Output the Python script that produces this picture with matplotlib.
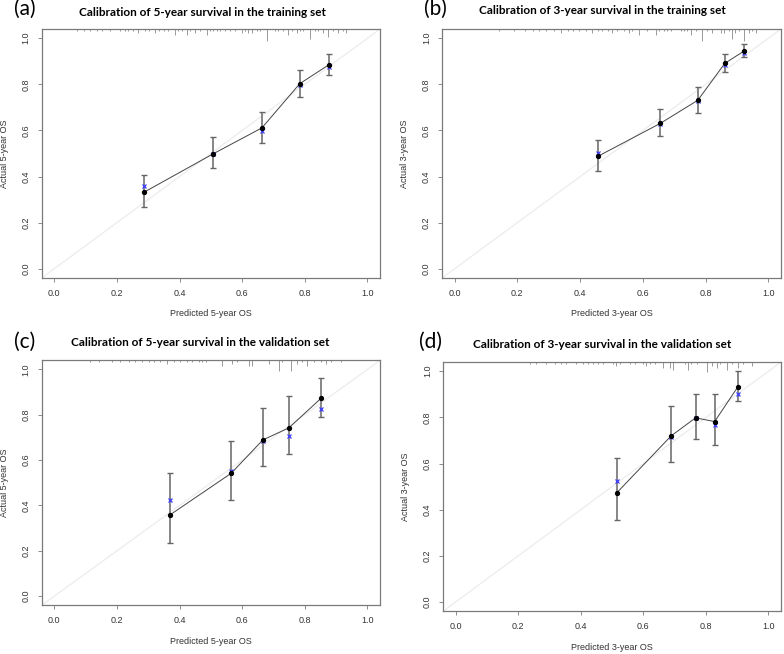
import numpy as np
import matplotlib.pyplot as plt
import matplotlib

matplotlib.rcParams.update({
    "font.family": ["Liberation Sans", "DejaVu Sans"],
})

# ---- data ----
# (a) 5-year, training set
a_pred = [0.288, 0.508, 0.663, 0.784, 0.878]
a_obs = [0.333, 0.499, 0.611, 0.803, 0.886]
a_ideal = [0.358, 0.500, 0.598, 0.796, 0.877]
a_lo = [0.269, 0.438, 0.547, 0.747, 0.839]
a_hi = [0.408, 0.573, 0.680, 0.861, 0.933]
a_rug_x = [0.072, 0.094, 0.115, 0.136, 0.152, 0.178, 0.210, 0.226, 0.237, 0.253,
           0.269, 0.290, 0.301, 0.322, 0.333, 0.349, 0.364, 0.386, 0.396, 0.407,
           0.423, 0.434, 0.449, 0.465, 0.487, 0.497, 0.508, 0.519, 0.529, 0.545,
           0.561, 0.577, 0.598, 0.609, 0.619, 0.630, 0.646, 0.657, 0.678, 0.704,
           0.715, 0.731, 0.747, 0.758, 0.774, 0.784, 0.795, 0.816, 0.832, 0.843,
           0.858, 0.874, 0.890, 0.906, 0.922, 0.933]
a_rug_n = [1, 1, 1, 1, 1, 1, 1, 1, 1, 1,
           2, 1, 1, 2, 1, 1, 1, 3, 1, 1,
           3, 1, 2, 1, 3, 1, 1, 1, 1, 1,
           1, 1, 2, 1, 2, 2, 1, 1, 6, 1,
           1, 1, 3, 1, 2, 1, 1, 5, 1, 1,
           2, 4, 1, 2, 1, 2]

# (b) 3-year, training set
b_pred = [0.457, 0.656, 0.775, 0.861, 0.923]
b_obs = [0.488, 0.631, 0.731, 0.891, 0.945]
b_ideal = [0.502, 0.627, 0.728, 0.884, 0.938]
b_lo = [0.424, 0.576, 0.677, 0.852, 0.918]
b_hi = [0.559, 0.695, 0.790, 0.933, 0.977]
b_rug_x = [0.140, 0.190, 0.226, 0.249, 0.270, 0.290, 0.317, 0.339, 0.360, 0.376,
           0.397, 0.418, 0.439, 0.456, 0.471, 0.488, 0.503, 0.519, 0.540, 0.556,
           0.566, 0.588, 0.614, 0.641, 0.651, 0.667, 0.678, 0.689, 0.720, 0.731,
           0.741, 0.752, 0.768, 0.789, 0.805, 0.821, 0.848, 0.858, 0.874, 0.884,
           0.895, 0.905, 0.921, 0.937, 0.948, 0.959]
b_rug_n = [1, 1, 1, 1, 1, 1, 1, 2, 1, 1,
           1, 1, 2, 1, 1, 1, 2, 1, 1, 2,
           1, 3, 1, 3, 1, 1, 1, 1, 1, 1,
           1, 3, 1, 6, 1, 2, 2, 2, 1, 5,
           2, 1, 6, 2, 1, 2]

# (c) 5-year, validation set
c_pred = [0.368, 0.565, 0.666, 0.749, 0.853]
c_obs = [0.357, 0.542, 0.689, 0.742, 0.874]
c_ideal = [0.425, 0.550, 0.683, 0.707, 0.824]
c_lo = [0.234, 0.422, 0.572, 0.627, 0.790]
c_hi = [0.545, 0.683, 0.830, 0.881, 0.964]
c_rug_x = [0.115, 0.142, 0.185, 0.211, 0.238, 0.259, 0.280, 0.302, 0.318, 0.339,
           0.360, 0.381, 0.403, 0.424, 0.440, 0.461, 0.472, 0.483, 0.536, 0.568,
           0.584, 0.621, 0.632, 0.685, 0.717, 0.728, 0.755, 0.776, 0.792, 0.808,
           0.829, 0.851, 0.867, 0.883, 0.915]
c_rug_n = [1, 1, 1, 1, 1, 1, 1, 1, 1, 1,
           2, 1, 1, 1, 1, 1, 1, 1, 3, 2,
           1, 3, 3, 2, 5, 1, 5, 2, 1, 3,
           1, 1, 2, 1, 1]

# (d) 3-year, validation set
d_pred = [0.515, 0.689, 0.767, 0.828, 0.902]
d_obs = [0.473, 0.720, 0.798, 0.782, 0.932]
d_ideal = [0.525, 0.713, 0.797, 0.768, 0.901]
d_lo = [0.357, 0.605, 0.705, 0.682, 0.870]
d_hi = [0.626, 0.849, 0.901, 0.901, 1.000]
d_rug_x = [0.237, 0.258, 0.290, 0.317, 0.338, 0.354, 0.386, 0.407, 0.423, 0.439,
           0.455, 0.471, 0.503, 0.514, 0.524, 0.556, 0.572, 0.599, 0.610, 0.620,
           0.636, 0.663, 0.684, 0.695, 0.732, 0.743, 0.754, 0.770, 0.802, 0.818,
           0.834, 0.844, 0.866, 0.882, 0.903, 0.919, 0.946]
d_rug_n = [1, 1, 1, 1, 1, 1, 1, 1, 1, 1,
           1, 1, 1, 2, 1, 1, 1, 1, 2, 1,
           1, 3, 3, 4, 1, 4, 1, 1, 5, 2,
           3, 1, 4, 1, 3, 1, 2]

panels = [
    ("(a)", "Calibration of 5-year survival in the training set", "Predicted 5-year OS", "Actual 5-year OS",
     a_pred, a_obs, a_ideal, a_lo, a_hi, a_rug_x, a_rug_n),
    ("(b)", "Calibration of 3-year survival in the training set", "Predicted 3-year OS", "Actual 3-year OS",
     b_pred, b_obs, b_ideal, b_lo, b_hi, b_rug_x, b_rug_n),
    ("(c)", "Calibration of 5-year survival in the validation set", "Predicted 5-year OS", "Actual 5-year OS",
     c_pred, c_obs, c_ideal, c_lo, c_hi, c_rug_x, c_rug_n),
    ("(d)", "Calibration of 3-year survival in the validation set", "Predicted 3-year OS", "Actual 3-year OS",
     d_pred, d_obs, d_ideal, d_lo, d_hi, d_rug_x, d_rug_n),
]

# axes boxes in pixels: left, top, right, bottom
boxes = [(41.7, 29, 380, 278), (442, 29, 781, 278),
         (41.7, 360.3, 380, 605.3), (443, 362, 781, 611.3)]
# label / title positions in pixels
tag_pos = [(25, 9), (435, 9), (25, 342), (430, 342)]
title_pos = [(202, 12), (602, 11), (200, 342), (602, 344)]

W, H = 784, 654
fig = plt.figure(figsize=(W / 100, H / 100), dpi=100)

grey = "#7a7a7a"
txt = "#333333"

for i, p in enumerate(panels):
    tag, title, xl, yl, pred, obs, ideal, lo, hi, rx, rn = p
    l, t, r, b = boxes[i]
    ax = fig.add_axes([l / W, 1 - b / H, (r - l) / W, (b - t) / H])
    ax.set_xlim(-0.04, 1.04)
    ax.set_ylim(-0.04, 1.04)

    # ideal line
    ax.plot([-0.04, 1.04], [-0.04, 1.04], color="#ececec", lw=0.9, zorder=1)

    # rug / histogram of predictions at the top
    rx = np.array(rx)
    rn = np.array(rn)
    ax.vlines(rx, 1.04 - rn * 0.009, 1.04, color="#999999", lw=0.7, zorder=2)

    # error bars
    pred = np.array(pred)
    obs = np.array(obs)
    ax.errorbar(pred, obs, yerr=[obs - np.array(lo), np.array(hi) - obs], fmt="none",
                ecolor="#666666", elinewidth=1.1, capsize=2.2, capthick=1.0, zorder=3)
    ax.plot(pred, obs, color="#444444", lw=0.7, zorder=4)
    ax.plot(pred, ideal, "x", color="#3b3bff", ms=3.2, mew=0.9, zorder=5)
    ax.plot(pred, obs, "o", color="black", ms=2.8, zorder=6)

    ticks = [0.0, 0.2, 0.4, 0.6, 0.8, 1.0]
    ax.set_xticks(ticks)
    ax.set_yticks(ticks)
    ax.set_xticklabels([f"{v:.1f}" for v in ticks])
    ax.set_yticklabels([f"{v:.1f}" for v in ticks], rotation=90, va="center")
    ax.tick_params(direction="out", length=3, width=0.6, color=grey,
                   labelsize=6.5, labelcolor=txt, pad=5)
    for s in ax.spines.values():
        s.set_color(grey)
        s.set_linewidth(0.9)
    ax.set_xlabel(xl, fontsize=6.5, color=txt, labelpad=8)
    ax.set_ylabel(yl, fontsize=6.5, color=txt, labelpad=9)

    tx, ty = tag_pos[i]
    fig.text(tx / W, 1 - ty / H, tag, fontsize=15, family=["Lato", "DejaVu Sans"],
             ha="center", va="center", color="black")
    hx, hy = title_pos[i]
    fig.text(hx / W, 1 - hy / H, title, fontsize=8.5, fontweight="bold",
             family=["Lato", "DejaVu Sans"], ha="center", va="center", color="black")

fig.savefig("out.png", dpi=100)
